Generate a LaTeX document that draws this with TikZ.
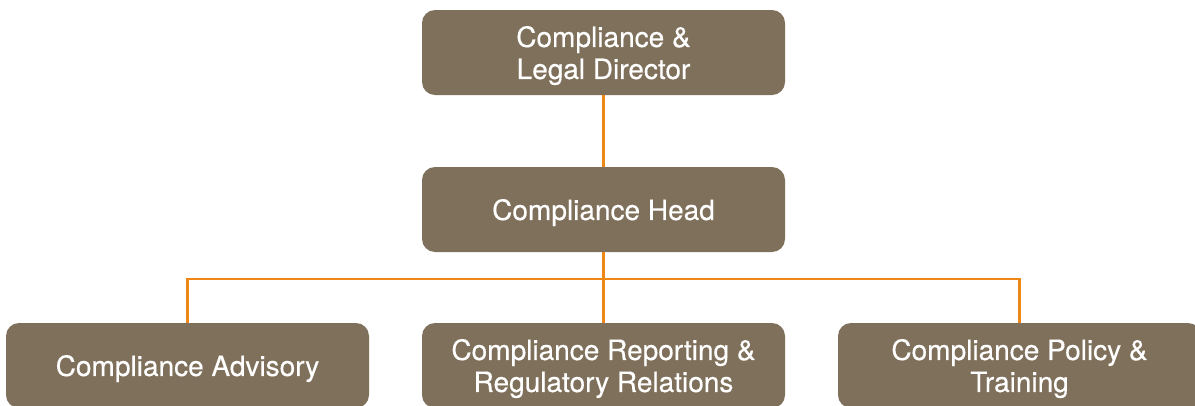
\documentclass[tikz,border=0pt]{standalone}
\usepackage{fontspec}
\setmainfont{TeX Gyre Heros}
\newfontfamily\boxfont{TeX Gyre Heros}[FakeBold=0.4]
\definecolor{boxbrown}{HTML}{7F705B}
\definecolor{lineorange}{HTML}{EF8717}
\begin{document}
\begin{tikzpicture}[x=1pt,y=-1pt,
  orgbox/.style={fill=boxbrown, draw=none, rounded corners=13pt, minimum width=363pt, minimum height=85pt,
    inner sep=0pt, text=white, align=center, text depth=0pt, font=\boxfont\fontsize{28}{32}\selectfont},
  link/.style={draw=lineorange, line width=2.2pt}]
\useasboundingbox (0,0) rectangle (1195,405);
\clip (0,0) rectangle (1195,405);
\node[orgbox] (dir) at (603.5,52.5) {Compliance \&\\Legal Director};
\node[orgbox] (head) at (603.5,209.5) {Compliance Head};
\node[orgbox] (adv) at (187.5,365.5) {Compliance Advisory};
\node[orgbox] (rep) at (603.5,365.5) {Compliance Reporting \&\\Regulatory Relations};
\node[orgbox] (pol) at (1019.5,365.5) {Compliance Policy \&\\Training};
\coordinate (j) at (603.5,279);
\draw[link] (dir.south) -- (head.north);
\draw[link] (head.south) -- (j);
\draw[link] (j) -- (rep.north);
\draw[link] (adv.north) -- (adv.north |- j) -- (pol.north |- j) -- (pol.north);
\end{tikzpicture}
\end{document}
